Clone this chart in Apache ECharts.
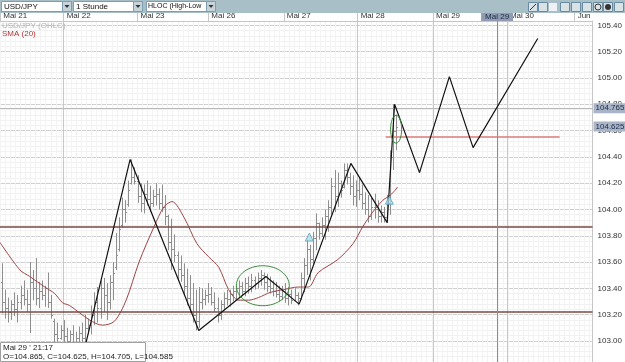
<!DOCTYPE html>
<html>
<head>
<meta charset="utf-8">
<script src="https://cdn.jsdelivr.net/npm/echarts@6/dist/echarts.min.js"></script>
<style>
html, body { margin: 0; padding: 0; background: #fff; }
#main { width: 625px; height: 362px; }
</style>
</head>
<body>
<div id="main"></div>
<script>
// hour index: Mai 21 00:00 = 0, trading hours only (weekend skipped)
var firstHour = 4;

// USD/JPY 1h bars
var barOpen = [
  103.45, 103.30, 103.25, 103.22, 103.28, 103.24, 103.30, 103.35, 103.32, 103.28,
  103.45, 103.40, 103.33, 103.38, 103.35, 103.40, 103.30, 103.15, 103.05, 103.02,
  103.08, 103.04, 103.00, 103.05, 102.98, 103.02, 103.06, 103.02, 103.10, 103.12,
  103.20, 103.30, 103.25, 103.40, 103.35, 103.30, 103.45, 103.56, 103.70, 103.88,
  104.00, 104.04, 104.20, 104.25, 104.22, 104.10, 104.05, 104.12, 104.08, 104.05,
  104.10, 104.12, 104.05, 104.02, 103.95, 103.75, 103.70, 103.65, 103.55, 103.50,
  103.42, 103.33, 103.28, 103.20, 103.15, 103.30, 103.32, 103.35, 103.36, 103.30,
  103.25, 103.20, 103.28, 103.33, 103.32, 103.36, 103.38, 103.40, 103.42, 103.38,
  103.44, 103.42, 103.46, 103.44, 103.48, 103.50, 103.45, 103.42, 103.40, 103.38,
  103.36, 103.34, 103.38, 103.33, 103.36, 103.31, 103.35, 103.33, 103.48, 103.58,
  103.70, 103.62, 103.78, 103.90, 103.82, 103.88, 103.95, 104.02, 104.18, 104.10,
  104.20, 104.17, 104.30, 104.25, 104.18, 104.10, 104.15, 104.12, 104.05, 104.00,
  103.95, 104.02, 104.00, 103.95, 103.98, 103.94, 104.05, 104.40, 104.60
];
var barHigh = [
  103.59, 103.39, 103.33, 103.31, 103.37, 103.35, 103.42, 103.46, 103.39, 103.60,
  103.54, 103.63, 103.45, 103.46, 103.42, 103.52, 103.35, 103.17, 103.14, 103.12,
  103.16, 103.10, 103.08, 103.12, 103.07, 103.11, 103.14, 103.20, 103.17, 103.27,
  103.37, 103.41, 103.46, 103.48, 103.44, 103.50, 103.60, 103.82, 103.94, 104.09,
  104.07, 104.22, 104.38, 104.32, 104.26, 104.20, 104.19, 104.22, 104.18, 104.15,
  104.20, 104.16, 104.19, 104.11, 103.96, 103.93, 103.81, 103.68, 103.65, 103.59,
  103.55, 103.50, 103.44, 103.39, 103.41, 103.40, 103.39, 103.44, 103.41, 103.37,
  103.33, 103.31, 103.37, 103.39, 103.39, 103.42, 103.42, 103.46, 103.45, 103.48,
  103.49, 103.51, 103.49, 103.52, 103.54, 103.52, 103.51, 103.49, 103.46, 103.45,
  103.42, 103.42, 103.44, 103.41, 103.39, 103.40, 103.37, 103.52, 103.63, 103.77,
  103.73, 103.83, 103.97, 103.90, 103.94, 104.00, 104.07, 104.24, 104.30, 104.28,
  104.22, 104.35, 104.35, 104.28, 104.26, 104.22, 104.24, 104.19, 104.13, 104.11,
  104.09, 104.12, 104.07, 104.03, 104.02, 104.11, 104.45, 104.80, 104.72
];
var barLow = [
  103.21, 103.17, 103.14, 103.16, 103.19, 103.14, 103.24, 103.27, 103.22, 103.06,
  103.31, 103.27, 103.25, 103.31, 103.26, 103.25, 103.17, 102.98, 102.97, 103.01,
  102.98, 102.95, 102.97, 102.93, 102.92, 102.96, 102.95, 102.98, 103.05, 103.05,
  103.12, 103.14, 103.17, 103.22, 103.16, 103.24, 103.31, 103.54, 103.68, 103.86,
  103.90, 104.02, 104.19, 104.19, 104.05, 103.98, 103.97, 104.03, 103.98, 104.02,
  104.03, 104.00, 103.98, 103.88, 103.69, 103.54, 103.60, 103.46, 103.45, 103.35,
  103.27, 103.21, 103.14, 103.08, 103.10, 103.24, 103.27, 103.29, 103.27, 103.22,
  103.14, 103.16, 103.24, 103.27, 103.26, 103.30, 103.31, 103.33, 103.34, 103.34,
  103.36, 103.37, 103.39, 103.40, 103.42, 103.39, 103.37, 103.36, 103.34, 103.33,
  103.30, 103.31, 103.29, 103.27, 103.28, 103.30, 103.27, 103.31, 103.37, 103.50,
  103.46, 103.58, 103.69, 103.77, 103.79, 103.77, 103.83, 103.96, 103.98, 104.02,
  104.09, 104.16, 104.19, 104.11, 104.03, 104.02, 104.07, 104.00, 103.96, 103.90,
  103.92, 103.93, 103.90, 103.90, 103.90, 103.90, 103.96, 104.30, 104.45
];
var barClose = [
  103.30, 103.25, 103.22, 103.28, 103.24, 103.30, 103.35, 103.32, 103.28, 103.45,
  103.40, 103.33, 103.38, 103.35, 103.40, 103.30, 103.20, 103.05, 103.02, 103.08,
  103.04, 103.00, 103.05, 102.98, 103.02, 103.06, 103.02, 103.10, 103.12, 103.20,
  103.30, 103.25, 103.40, 103.35, 103.30, 103.45, 103.52, 103.65, 103.85, 104.00,
  103.98, 104.15, 104.25, 104.22, 104.10, 104.05, 104.12, 104.08, 104.05, 104.10,
  104.12, 104.05, 104.02, 103.95, 103.75, 103.70, 103.65, 103.55, 103.50, 103.42,
  103.33, 103.28, 103.20, 103.15, 103.30, 103.32, 103.35, 103.36, 103.30, 103.25,
  103.20, 103.28, 103.33, 103.32, 103.36, 103.38, 103.40, 103.42, 103.38, 103.44,
  103.42, 103.46, 103.44, 103.48, 103.50, 103.45, 103.42, 103.40, 103.38, 103.36,
  103.34, 103.38, 103.33, 103.36, 103.31, 103.35, 103.33, 103.48, 103.58, 103.70,
  103.62, 103.78, 103.90, 103.82, 103.88, 103.95, 104.02, 104.18, 104.10, 104.20,
  104.15, 104.30, 104.25, 104.18, 104.10, 104.15, 104.12, 104.05, 104.00, 103.95,
  104.02, 104.00, 103.95, 103.98, 103.94, 104.05, 104.40, 104.60, 104.63
];

// SMA(20) as drawn
var smaHours = [3.3, 9.8, 13.0, 17.9, 21.1, 23.7, 25.9, 32.4, 36.6, 40.5, 44.3, 48.5, 53.4, 56.6, 59.2, 63.1, 67.3, 71.1,
  74.4, 77.6, 80.8, 84.1, 87.3, 91.2, 95.4, 100.2, 103.5, 106.7, 113.1, 118.0, 121.2, 124.4, 127.7, 130.2, 132.5];
var smaValues = [103.75, 103.54, 103.49, 103.41, 103.36, 103.29, 103.27, 103.16, 103.12, 103.15, 103.31, 103.60, 103.87, 104.02, 104.06, 103.94, 103.74, 103.64,
  103.56, 103.39, 103.31, 103.31, 103.33, 103.37, 103.39, 103.41, 103.41, 103.52, 103.62, 103.74, 103.87, 103.98, 104.07, 104.11, 104.17];

// hand drawn zigzag
var zigHours = [31.1, 45.6, 67.9, 89.7, 100.5, 117.3, 129.1, 131.5, 139.6, 149.3, 157.0, 178.0];
var zigPrices = [102.97, 104.38, 103.08, 103.49, 103.28, 104.35, 103.90, 104.80, 104.28, 105.01, 104.47, 105.30];

// signal triangles
var sigHours = [103.8, 129.8];
var sigPrices = [103.79, 104.07];

// green ellipses: centre and half extents
var ellHours = [88.7, 132.0];
var ellPrices = [103.42, 104.61];
var ellHalfHours = [8.6, 1.8];
var ellHalfPrices = [0.152, 0.106];

// horizontal levels
var levelLines = [103.87, 103.22];
var targetLevel = 104.55;
var targetFrom = 128.6, targetTo = 185.1;
var crossPrice = 104.765, lastPrice = 104.625, crossHour = 164.8;

// day separators and labels
var dayTicks = [3.4, 24, 48, 71, 95.5, 119.5, 144, 168, 190];
var dayLabels = ['Mai 21', 'Mai 22', 'Mai 23', 'Mai 26', 'Mai 27', 'Mai 28', 'Mai 29', 'Mai 30', 'Jun'];

var FONT = 'Liberation Sans, Arial, sans-serif';

var bars = [];
for (var i = 0; i < barOpen.length; i++) {
    bars.push([firstHour + i, barOpen[i], barHigh[i], barLow[i], barClose[i]]);
}
var sma = smaHours.map(function (h, i) { return [h, smaValues[i]]; });
var zig = zigHours.map(function (h, i) { return [h, zigPrices[i]]; });
var sig = sigHours.map(function (h, i) { return [h, sigPrices[i]]; });
var ell = ellHours.map(function (h, i) { return [h, ellPrices[i], ellHalfHours[i], ellHalfPrices[i]]; });

function renderBar(params, api) {
    var h = api.value(0);
    var pH = api.coord([h, api.value(2)]);
    var pL = api.coord([h, api.value(3)]);
    var yO = Math.round(api.coord([h, api.value(1)])[1]) + 0.5;
    var yC = Math.round(api.coord([h, api.value(4)])[1]) + 0.5;
    var x = Math.round(pH[0]) + 0.5;
    var st = { stroke: '#8e8e8e', lineWidth: 1 };
    return {
        type: 'group',
        children: [
            { type: 'line', shape: { x1: x, y1: pH[1], x2: x, y2: pL[1] }, style: st },
            { type: 'line', shape: { x1: x - 1.5, y1: yO, x2: x, y2: yO }, style: st },
            { type: 'line', shape: { x1: x, y1: yC, x2: x + 1.5, y2: yC }, style: st }
        ]
    };
}

function renderEllipse(params, api) {
    var c = api.coord([api.value(0), api.value(1)]);
    var s = api.size([api.value(2), api.value(3)]);
    return {
        type: 'ellipse',
        shape: { cx: c[0], cy: c[1], rx: s[0], ry: s[1] },
        style: { fill: 'none', stroke: '#3d8c3d', lineWidth: 1 }
    };
}

var minor = '#f1f1f1', major = '#d0d0d0';

var option = {
    animation: false,
    backgroundColor: '#fff',
    grid: { left: 0, right: 29, top: 21, bottom: 0 },
    xAxis: [
        {
            type: 'value', position: 'top', min: 3.33, max: 195.8,
            axisLine: { show: true, lineStyle: { color: '#c6c6c6' } },
            axisTick: { show: true, customValues: dayTicks, length: 8, lineStyle: { color: '#c6c6c6' } },
            axisLabel: {
                customValues: dayTicks, align: 'left', margin: 1, padding: [0, 0, 0, 3],
                fontSize: 8, color: '#333', fontFamily: FONT,
                formatter: function (v) {
                    for (var k = 0; k < dayTicks.length; k++) {
                        if (Math.abs(dayTicks[k] - v) < 0.01) return dayLabels[k];
                    }
                    return '';
                }
            },
            splitLine: { show: true, lineStyle: { color: '#c8c8c8' } }
        },
        {
            type: 'value', position: 'bottom', min: 3.33, max: 195.8, interval: 1.65,
            axisLine: { show: false }, axisTick: { show: false }, axisLabel: { show: false },
            splitLine: { show: true, lineStyle: { color: '#f3f3f3' } }
        }
    ],
    yAxis: {
        type: 'value', position: 'right', min: 102.84, max: 105.433, interval: 0.04,
        axisLine: { show: true, lineStyle: { color: '#c6c6c6' } },
        axisTick: { show: false },
        axisLabel: {
            margin: 5, fontSize: 8, color: '#333', fontFamily: FONT,
            formatter: function (v) {
                var k = Math.round(v * 5);
                return Math.abs(v * 5 - k) < 1e-4 ? v.toFixed(2) : '';
            }
        },
        splitLine: { show: true, lineStyle: { color: [minor, minor, minor, minor, major] } }
    },
    series: [
        {
            name: 'USD/JPY (OHLC)', type: 'custom', renderItem: renderBar,
            data: bars, encode: { x: 0, y: [1, 2, 3, 4] }, z: 2, clip: true
        },
        {
            name: 'SMA (20)', type: 'line', data: sma, smooth: 0.3, showSymbol: false,
            lineStyle: { color: '#9e4545', width: 1 }, z: 3,
            markLine: {
                symbol: ['none', 'none'], silent: true,
                data: [
                    { yAxis: levelLines[0], lineStyle: { color: '#7a4a44', width: 1.5, type: 'solid' }, label: { show: false } },
                    { yAxis: levelLines[1], lineStyle: { color: '#7a4a44', width: 1.5, type: 'solid' }, label: { show: false } },
                    {
                        yAxis: crossPrice, lineStyle: { color: '#b8b8b8', width: 1, type: 'solid' },
                        label: { show: true, position: 'end', distance: 1, formatter: '104.765', fontSize: 8, fontFamily: FONT,
                            color: '#1d2b4a', backgroundColor: '#a9b4c7', padding: [1, 2, 1, 2] }
                    },
                    {
                        yAxis: lastPrice, lineStyle: { color: 'rgba(0,0,0,0)', width: 0 },
                        label: { show: true, position: 'end', distance: 1, formatter: '104.625', fontSize: 8, fontFamily: FONT,
                            color: '#1d2b4a', backgroundColor: '#a9b4c7', padding: [1, 2, 1, 2] }
                    },
                    {
                        xAxis: crossHour, lineStyle: { color: '#8c8c8c', width: 1, type: 'solid' },
                        label: { show: true, position: 'end', distance: 0, formatter: 'Mai 29', fontSize: 8, fontFamily: FONT,
                            color: '#1d2b4a', backgroundColor: '#8f9cb2', padding: [0, 4, 0, 4] }
                    }
                ]
            }
        },
        {
            name: 'target', type: 'line', data: [[targetFrom, targetLevel], [targetTo, targetLevel]],
            showSymbol: false, lineStyle: { color: '#de7b7b', width: 1.5 }, z: 3
        },
        {
            name: 'zigzag', type: 'line', data: zig, showSymbol: false,
            lineStyle: { color: '#111', width: 1.2 }, z: 5
        },
        {
            name: 'signal', type: 'scatter', data: sig, symbol: 'triangle', symbolSize: [8, 8],
            itemStyle: { color: '#abdcea', borderColor: '#5aa3c0', borderWidth: 1 }, z: 6
        },
        {
            name: 'marks', type: 'custom', renderItem: renderEllipse, data: ell,
            encode: { x: 0, y: 1 }, z: 6
        }
    ],
    graphic: [
        // toolbar
        { type: 'rect', left: 0, top: 0, z: 100, shape: { width: 625, height: 13 }, style: { fill: '#a9bfc7' } },
        { type: 'rect', z: 101, shape: { x: 1.5, y: 1.5, width: 61, height: 10 }, style: { fill: '#fff', stroke: '#7f9db0' } },
        { type: 'text', z: 102, x: 4, y: 2.5, style: { text: 'USD/JPY', fontSize: 8, fontFamily: FONT, fill: '#111' } },
        { type: 'rect', z: 101, shape: { x: 62.5, y: 1.5, width: 9, height: 10 }, style: { fill: '#c6d4da', stroke: '#7f9db0' } },
        { type: 'polygon', z: 102, shape: { points: [[64.5, 5], [69.5, 5], [67, 8]] }, style: { fill: '#333' } },
        { type: 'rect', z: 101, shape: { x: 73.5, y: 1.5, width: 60, height: 10 }, style: { fill: '#fff', stroke: '#7f9db0' } },
        { type: 'text', z: 102, x: 76, y: 2.5, style: { text: '1 Stunde', fontSize: 8, fontFamily: FONT, fill: '#111' } },
        { type: 'rect', z: 101, shape: { x: 133.5, y: 1.5, width: 9, height: 10 }, style: { fill: '#c6d4da', stroke: '#7f9db0' } },
        { type: 'polygon', z: 102, shape: { points: [[135.5, 5], [140.5, 5], [138, 8]] }, style: { fill: '#333' } },
        { type: 'rect', z: 101, shape: { x: 146.5, y: 1.5, width: 60, height: 10 }, style: { fill: '#fff', stroke: '#7f9db0' } },
        { type: 'text', z: 102, x: 148, y: 3, style: { text: 'HLOC (High-Low-O', fontSize: 7, fontFamily: FONT, fill: '#111', width: 58, overflow: 'truncate', ellipsis: '' } },
        { type: 'rect', z: 101, shape: { x: 206.5, y: 1.5, width: 9, height: 10 }, style: { fill: '#c6d4da', stroke: '#7f9db0' } },
        { type: 'polygon', z: 102, shape: { points: [[208.5, 5], [213.5, 5], [211, 8]] }, style: { fill: '#333' } },
        // tool icons
        { type: 'rect', z: 101, shape: { x: 528.5, y: 2.5, width: 9, height: 9 }, style: { fill: '#d8e3e8', stroke: '#6a8aa0' } },
        { type: 'line', z: 102, shape: { x1: 530, y1: 10, x2: 536, y2: 4 }, style: { stroke: '#333' } },
        { type: 'rect', z: 101, shape: { x: 538.5, y: 2.5, width: 9, height: 9 }, style: { fill: '#d8e3e8', stroke: '#6a8aa0' } },
        { type: 'rect', z: 101, shape: { x: 548.5, y: 2.5, width: 9, height: 9 }, style: { fill: '#eef2f4', stroke: '#a9bcc7' } },
        { type: 'rect', z: 101, shape: { x: 560.5, y: 2.5, width: 9, height: 9 }, style: { fill: '#d8e3e8', stroke: '#6a8aa0' } },
        { type: 'rect', z: 101, shape: { x: 571.5, y: 2.5, width: 9, height: 9 }, style: { fill: '#d8e3e8', stroke: '#6a8aa0' } },
        { type: 'rect', z: 101, shape: { x: 582.5, y: 2.5, width: 9, height: 9 }, style: { fill: '#d8e3e8', stroke: '#6a8aa0' } },
        { type: 'rect', z: 101, shape: { x: 593.5, y: 2.5, width: 9, height: 9 }, style: { fill: '#d8e3e8', stroke: '#6a8aa0' } },
        { type: 'circle', z: 102, shape: { cx: 598, cy: 7, r: 3 }, style: { fill: 'none', stroke: '#333' } },
        { type: 'rect', z: 101, shape: { x: 603.5, y: 2.5, width: 9, height: 9 }, style: { fill: '#d8e3e8', stroke: '#6a8aa0' } },
        { type: 'circle', z: 102, shape: { cx: 608, cy: 7, r: 3 }, style: { fill: '#333' } },
        { type: 'rect', z: 101, shape: { x: 614.5, y: 2.5, width: 9, height: 9 }, style: { fill: '#d8e3e8', stroke: '#6a8aa0' } },
        // legend
        { type: 'text', z: 50, x: 2, y: 22, style: { text: 'USD/JPY (OHLC)', fontSize: 8, fontFamily: FONT, fill: '#b2b2b2' } },
        { type: 'text', z: 50, x: 2, y: 30, style: { text: 'SMA (20)', fontSize: 8, fontFamily: FONT, fill: '#b23434' } },
        // crosshair info box
        { type: 'rect', z: 50, shape: { x: 0.5, y: 342.5, width: 145, height: 19 }, style: { fill: '#fff', stroke: '#a0a0a0' } },
        { type: 'text', z: 51, x: 3, y: 344, style: { text: "Mai 29 ' 21:17", fontSize: 8, fontFamily: FONT, fill: '#222' } },
        { type: 'text', z: 51, x: 3, y: 353, style: { text: 'O=104.865, C=104.625, H=104.705, L=104.585', fontSize: 8, fontFamily: FONT, fill: '#222' } }
    ]
};

var chart = echarts.init(document.getElementById('main'));
chart.setOption(option);
</script>
</body>
</html>
